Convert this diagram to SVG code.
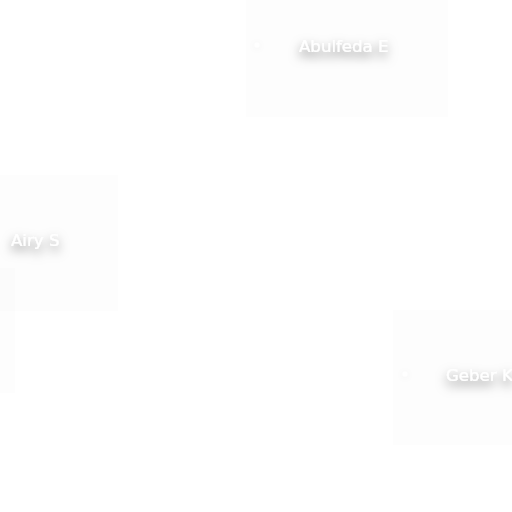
<svg xmlns="http://www.w3.org/2000/svg" width="512" height="512" viewBox="0 0 512 512">
<style>
.bg{fill:#000;fill-opacity:0.007}
.lbl{font-family:"DejaVu Sans",Verdana,sans-serif;font-size:16.6px;fill:#fff;filter:url(#sh)}
.dot{fill:#fff;filter:url(#sh2)}
</style>
<defs>
<filter id="sh" x="-40%" y="-100%" width="180%" height="320%">
<feGaussianBlur in="SourceAlpha" stdDeviation="5.5" result="b"/>
<feOffset in="b" dx="0" dy="5" result="o"/>
<feColorMatrix in="o" type="matrix" values="0 0 0 0 0  0 0 0 0 0  0 0 0 0 0  0 0 0 0.55 0" result="s"/>
<feMerge><feMergeNode in="s"/><feMergeNode in="SourceGraphic"/></feMerge>
</filter>
<filter id="sh2" x="-300%" y="-300%" width="700%" height="700%">
<feDropShadow dx="0" dy="1" stdDeviation="3" flood-color="#000" flood-opacity="0.06"/>
</filter>
</defs>
<rect width="512" height="512" fill="#fff"/>
<g id="tiles">
<rect class="bg" x="246" y="0" width="202" height="117"/>
<rect class="bg" x="0" y="175" width="118" height="136"/>
<rect class="bg" x="0" y="268" width="15" height="125"/>
<rect class="bg" x="393" y="310" width="119" height="135"/>
</g>
<g id="abulfeda">
<circle class="dot" cx="257" cy="45" r="2.5"/>
<text class="lbl" x="299" y="52">Abulfeda E</text>
</g>
<g id="airy">
<text class="lbl" x="11" y="246">Airy S</text>
</g>
<g id="geber">
<circle class="dot" cx="405" cy="374" r="2.5"/>
<text class="lbl" x="446" y="381">Geber K</text>
</g>
</svg>
